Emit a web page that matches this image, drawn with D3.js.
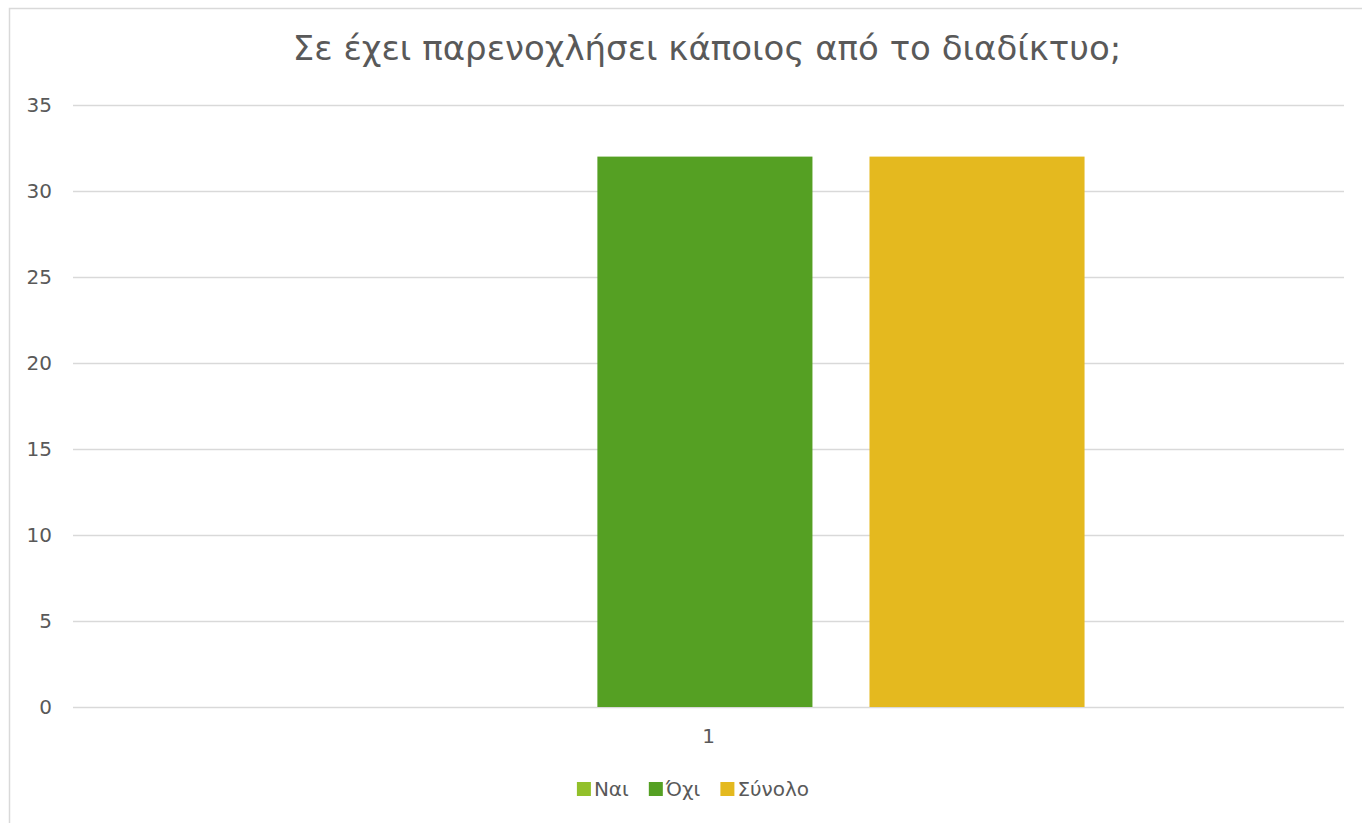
<!DOCTYPE html>
<html><head><meta charset="utf-8">
<script src="https://cdn.jsdelivr.net/npm/d3@7"></script>
<style>html,body{margin:0;padding:0;background:#fff;overflow:hidden}</style>
</head><body>
<svg id="c" width="1362" height="823"></svg>
<script>
const title = "Σε έχει παρενοχλήσει κάποιος από το διαδίκτυο;";
const categories = ["1"];
const seriesNames = ["Ναι", "Όχι", "Σύνολο"];
const seriesColors = ["#92C02A", "#55A023", "#E4B91F"];
const valuesNai = [0];
const valuesOxi = [32];
const valuesSynolo = [32];
const yTicks = [0, 5, 10, 15, 20, 25, 30, 35];

(function () {
const seriesValues = [valuesNai, valuesOxi, valuesSynolo];
const svg = d3.select("#c");
const font = "'DejaVu Sans', sans-serif";
const textColor = "#595959";

// chart border
svg.append("rect").attr("x", 9.5).attr("y", 8.5).attr("width", 1400).attr("height", 900)
  .attr("fill", "#fff").attr("stroke", "#D9D9D9").attr("stroke-width", 1.5);

const pLeft = 73, pRight = 1344, pTop = 105, pBottom = 707;
const y = d3.scaleLinear().domain([0, 35]).range([pBottom, pTop]);
const x0 = d3.scaleBand().domain(categories).range([pLeft, pRight]).paddingInner(0).paddingOuter(0.337).align(0.493);
const x1 = d3.scaleBand().domain(seriesNames).range([0, x0.bandwidth()]).paddingInner(0.2096).paddingOuter(0);

// gridlines
svg.append("g").selectAll("line").data(yTicks).join("line")
  .attr("x1", pLeft).attr("x2", pRight)
  .attr("y1", d => Math.round(y(d)) + 0.5).attr("y2", d => Math.round(y(d)) + 0.5)
  .attr("stroke", "#D9D9D9").attr("stroke-width", 1.5);

// y axis labels
const yAxis = d3.axisLeft(y).tickValues(yTicks).tickSize(0).tickPadding(21);
const ga = svg.append("g").attr("transform", `translate(${pLeft},0)`).call(yAxis);
ga.select(".domain").remove();
ga.selectAll("text").attr("font-family", font).attr("font-size", 20).attr("fill", textColor);

// bars
const rows = [];
categories.forEach((c, i) => seriesNames.forEach((s, j) => rows.push({c, s, v: seriesValues[j][i], color: seriesColors[j]})));
svg.append("g").selectAll("rect").data(rows).join("rect")
  .attr("x", d => x0(d.c) + x1(d.s))
  .attr("width", x1.bandwidth())
  .attr("y", d => y(d.v))
  .attr("height", d => y(0) - y(d.v))
  .attr("fill", d => d.color);

// x axis labels
const xAxis = d3.axisBottom(x0.copy().align(0.5)).tickSize(0).tickPadding(22);
const gx = svg.append("g").attr("transform", `translate(0,${pBottom})`).call(xAxis);
gx.select(".domain").remove();
gx.selectAll("text").attr("font-family", font).attr("font-size", 20).attr("fill", textColor);

// title
svg.append("text").attr("x", 707).attr("y", 60).attr("text-anchor", "middle")
  .attr("font-family", font).attr("font-size", 34).attr("fill", textColor).text(title);

// legend (centered)
const lg = svg.append("g");
let cx = 0;
seriesNames.forEach((s, i) => {
  const item = lg.append("g").attr("transform", `translate(${cx},0)`);
  item.append("rect").attr("x", 0).attr("y", 782).attr("width", 14).attr("height", 14).attr("fill", seriesColors[i]);
  const t = item.append("text").attr("x", 17).attr("y", 796).attr("font-family", font)
    .attr("font-size", 20).attr("fill", textColor).text(s);
  cx += 17 + t.node().getComputedTextLength() + 20;
});
const totalW = cx - 20;
lg.attr("transform", `translate(${693 - totalW / 2},0)`);
})();
</script>
</body></html>
